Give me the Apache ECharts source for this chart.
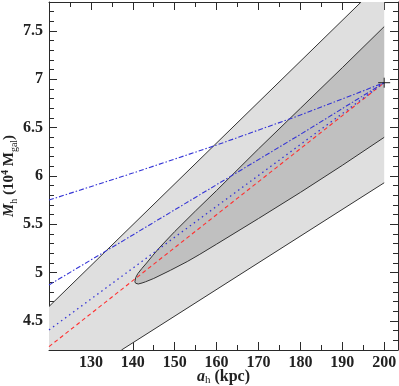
<!DOCTYPE html>
<html>
<head>
<meta charset="utf-8">
<script src="https://cdn.jsdelivr.net/npm/echarts@6/dist/echarts.min.js"></script>
<style>
html, body { margin: 0; padding: 0; background: #fff; }
#chart { width: 399px; height: 386px; }
</style>
</head>
<body>
<div id="chart"></div>
<script>
'use strict';

// tick positions
var xMajor = [120, 130, 140, 150, 160, 170, 180, 190, 200];
var xLabels = [130, 140, 150, 160, 170, 180, 190, 200];
var xMinor = [125, 135, 145, 155, 165, 175, 185, 195];
var yMajor = [4.5, 5, 5.5, 6, 6.5, 7, 7.5];
var yMinor = [4.3, 4.4, 4.6, 4.7, 4.8, 4.9, 5.1, 5.2, 5.3, 5.4, 5.6, 5.7, 5.8, 5.9,
              6.1, 6.2, 6.3, 6.4, 6.6, 6.7, 6.8, 6.9, 7.1, 7.2, 7.3, 7.4, 7.6, 7.7];

// outer (light) region edges
var lightUpper = [[120, 4.65], [194.5, 7.8]];
var lightLower = [[137.3, 4.2], [200, 5.93]];
var lightCorners = [[200, 7.8], [120, 4.2]];

// inner (dark) contour, both edges start at the left tip
var darkUpper = [[140.5, 4.905], [140.7, 4.95], [141.2, 4.99], [142.2, 5.045], [143.3, 5.10],
                 [144.8, 5.18], [146.5, 5.265], [150, 5.425], [155, 5.64], [160, 5.85],
                 [170, 6.28], [180, 6.70], [190, 7.12], [200, 7.545]];
var darkLower = [[140.5, 4.905], [140.7, 4.89], [141.3, 4.883], [142.2, 4.893], [143, 4.905],
                 [145, 4.94], [149, 5.025], [153, 5.115], [156, 5.19], [160, 5.295],
                 [170, 5.56], [180, 5.83], [190, 6.11], [200, 6.40]];

var redDashed = [[120, 4.235], [200, 6.965]];
var blueDotted = [[120, 4.407], [200, 6.965]];
var blueDashDotLow = [[120, 4.873], [140, 5.39], [160, 5.91], [180, 6.43], [200, 6.965]];
var blueDashDotHigh = [[120, 5.751], [140, 6.03], [160, 6.32], [180, 6.63], [200, 6.965]];
var endPoint = [[200, 6.965]];

var FONT = 'Liberation Serif';
var AX = '#2a2a2a';

function coords(api, pts) {
    var out = [];
    for (var i = 0; i < pts.length; i++) {
        out.push(api.coord(pts[i]));
    }
    return out;
}

function xAxisOf(pos, ticks, len, withLine) {
    return {
        type: 'value', position: pos, min: 120, max: 203.3,
        axisLine: { show: withLine, onZero: false, lineStyle: { color: AX, width: 1 } },
        axisTick: { show: true, inside: true, length: len, customValues: ticks, lineStyle: { color: AX } },
        axisLabel: { show: false },
        splitLine: { show: false }
    };
}

function yAxisOf(pos, ticks, len, withLine) {
    return {
        type: 'value', position: pos, min: 4.2, max: 7.8,
        axisLine: { show: withLine, onZero: false, lineStyle: { color: AX, width: 1 } },
        axisTick: { show: true, inside: true, length: len, customValues: ticks, lineStyle: { color: AX } },
        axisLabel: { show: false },
        splitLine: { show: false }
    };
}

var xMain = xAxisOf('bottom', xMajor, 8, true);
xMain.axisLabel = {
    show: true, customValues: xLabels, margin: 5,
    fontFamily: FONT, fontWeight: 'bold', fontSize: 16, color: '#222'
};
xMain.name = '{i|a}{s|h}{n| (kpc)}';
xMain.nameLocation = 'middle';
xMain.nameGap = 18;
xMain.nameMoveOverlap = false;
xMain.nameTextStyle = {
    align: 'center', verticalAlign: 'top',
    rich: {
        i: { fontFamily: FONT, fontSize: 16, fontStyle: 'italic', fontWeight: 'bold', color: '#222', lineHeight: 18 },
        s: { fontFamily: FONT, fontSize: 11, color: '#222', lineHeight: 11, verticalAlign: 'bottom' },
        n: { fontFamily: FONT, fontSize: 16, fontWeight: 'bold', color: '#222', lineHeight: 18 }
    }
};

var yMain = yAxisOf('left', yMajor, 8, true);
yMain.axisLabel = {
    show: true, customValues: yMajor, margin: 6,
    fontFamily: FONT, fontWeight: 'bold', fontSize: 16, color: '#222'
};
yMain.name = '{i|M}{s|h}{n| (10}{p|4}{n| M}{s|gal}{n|)}';
yMain.nameLocation = 'middle';
yMain.nameRotate = 90;
yMain.nameGap = 30;
yMain.nameMoveOverlap = false;
yMain.nameTextStyle = {
    align: 'center', verticalAlign: 'bottom',
    rich: {
        i: { fontFamily: FONT, fontSize: 15, fontStyle: 'italic', fontWeight: 'bold', color: '#222', lineHeight: 19 },
        s: { fontFamily: FONT, fontSize: 10, color: '#222', lineHeight: 11, verticalAlign: 'bottom' },
        p: { fontFamily: FONT, fontSize: 10, fontWeight: 'bold', color: '#222', lineHeight: 11, verticalAlign: 'top' },
        n: { fontFamily: FONT, fontSize: 15, fontWeight: 'bold', color: '#222', lineHeight: 19 }
    }
};

var my_chart = echarts.init(document.getElementById('chart'), null, { renderer: 'canvas' });

my_chart.setOption({
    animation: false,
    backgroundColor: '#fff',
    grid: { left: 49, right: 1, top: 2, bottom: 36, containLabel: false, outerBoundsMode: 'none' },
    xAxis: [
        xMain,
        xAxisOf('bottom', xMinor, 5, false),
        xAxisOf('top', xMajor, 8, true),
        xAxisOf('top', xMinor, 5, false)
    ],
    yAxis: [
        yMain,
        yAxisOf('left', yMinor, 5, false),
        yAxisOf('right', yMajor, 8, true),
        yAxisOf('right', yMinor, 5, false)
    ],
    series: [
        {
            // light region
            type: 'custom', clip: true, z: 1, silent: true,
            data: [[160, 6]],
            renderItem: function (params, api) {
                var fill = coords(api, lightUpper.concat([lightCorners[0]], lightLower.slice().reverse(), [lightCorners[1]]));
                return {
                    type: 'group',
                    children: [
                        { type: 'polygon', shape: { points: fill }, style: { fill: '#dfdfdf', stroke: null } },
                        { type: 'polyline', shape: { points: coords(api, lightUpper) }, style: { fill: null, stroke: '#333', lineWidth: 1 } },
                        { type: 'polyline', shape: { points: coords(api, lightLower) }, style: { fill: null, stroke: '#333', lineWidth: 1 } }
                    ]
                };
            }
        },
        {
            // dark region
            type: 'custom', clip: true, z: 2, silent: true,
            data: [[160, 6]],
            renderItem: function (params, api) {
                var pts = coords(api, darkUpper.slice().reverse().concat(darkLower.slice(1)));
                return {
                    type: 'group',
                    children: [
                        { type: 'polygon', shape: { points: pts }, style: { fill: '#c0c0c0', stroke: null } },
                        { type: 'polyline', shape: { points: pts }, style: { fill: null, stroke: '#333', lineWidth: 1 } }
                    ]
                };
            }
        },
        {
            type: 'line', data: redDashed, showSymbol: false, z: 5, silent: true,
            lineStyle: { color: '#ff3030', width: 1.1, type: [4, 3] }
        },
        {
            type: 'line', data: blueDotted, showSymbol: false, z: 5, silent: true,
            lineStyle: { color: '#3535d5', width: 1.3, type: [1.5, 3.5] }
        },
        {
            type: 'line', data: blueDashDotLow, showSymbol: false, z: 5, silent: true,
            lineStyle: { color: '#3535d5', width: 1.1, type: [5, 2, 1.5, 2] }
        },
        {
            type: 'line', data: blueDashDotHigh, showSymbol: false, z: 5, silent: true,
            lineStyle: { color: '#3535d5', width: 1.1, type: [5, 2, 1.5, 2] }
        },
        {
            // end point cross
            type: 'custom', z: 6, silent: true,
            data: endPoint,
            renderItem: function (params, api) {
                var p = api.coord([api.value(0), api.value(1)]);
                return {
                    type: 'group',
                    children: [
                        { type: 'line', shape: { x1: p[0] - 6, y1: p[1], x2: p[0] + 6, y2: p[1] }, style: { stroke: '#222', lineWidth: 1 } },
                        { type: 'line', shape: { x1: p[0], y1: p[1] - 5, x2: p[0], y2: p[1] + 5 }, style: { stroke: '#222', lineWidth: 1 } }
                    ]
                };
            }
        }
    ]
});
</script>
</body>
</html>
